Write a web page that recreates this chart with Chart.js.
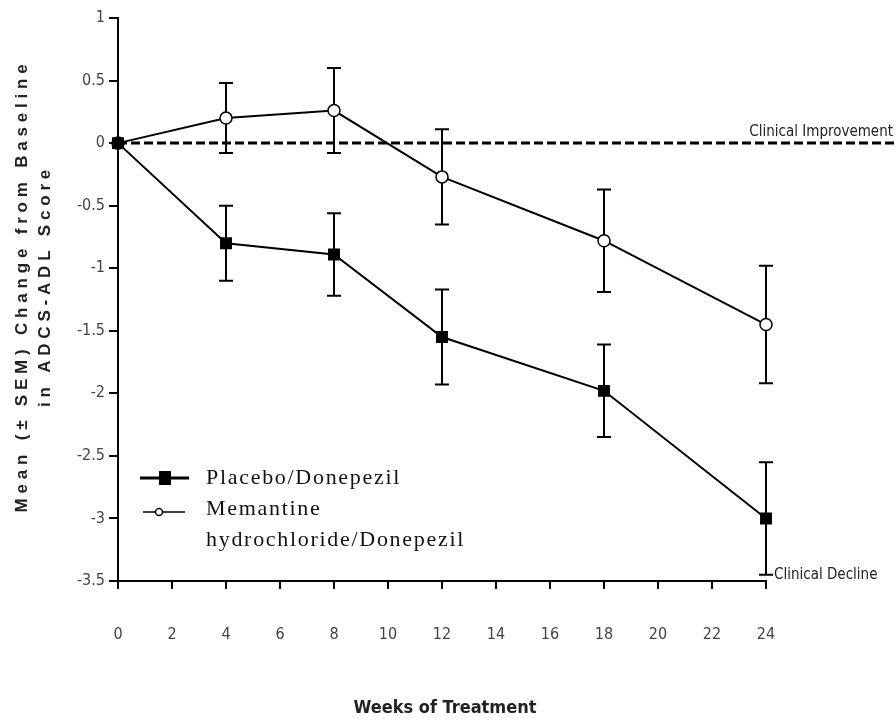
<!DOCTYPE html>
<html>
<head>
<meta charset="utf-8">
<script src="https://cdn.jsdelivr.net/npm/chart.js@4"></script>
<style>
  html, body { margin: 0; padding: 0; background: #fff; }
  #wrap { width: 896px; height: 721px; }
</style>
</head>
<body>
<div id="wrap"><canvas id="chart" width="896" height="721"></canvas></div>
<script>
// data
const weeks = [0, 4, 8, 12, 18, 24];
const placebo = [0, -0.8, -0.89, -1.55, -1.98, -3.0];
const placeboSem = [0, 0.3, 0.33, 0.38, 0.37, 0.45];
const memantine = [0, 0.2, 0.26, -0.27, -0.78, -1.45];
const memantineSem = [0, 0.28, 0.34, 0.38, 0.41, 0.47];
const xTicks = [0, 2, 4, 6, 8, 10, 12, 14, 16, 18, 20, 22, 24];
const yTicks = [1, 0.5, 0, -0.5, -1, -1.5, -2, -2.5, -3, -3.5];

const NARROW = "'Liberation Sans Narrow', 'DejaVu Sans Condensed', 'Liberation Sans', sans-serif";

// ======================
// ERROR BARS + REFERENCE LINE + NOTES + LEGEND
// ======================
const extras = {
    id: "extras",
    beforeDatasetsDraw(c) {
        const ctx = c.ctx;
        const x = c.scales.x, y = c.scales.y;
        ctx.save();
        // dashed zero line runs past the plot to the page edge
        ctx.strokeStyle = "#000";
        ctx.lineWidth = 3;
        ctx.setLineDash([9, 4]);
        ctx.beginPath();
        ctx.moveTo(x.getPixelForValue(0), y.getPixelForValue(0));
        ctx.lineTo(c.width, y.getPixelForValue(0));
        ctx.stroke();
        ctx.setLineDash([]);

        // error bars
        ctx.lineWidth = 2;
        [[placebo, placeboSem], [memantine, memantineSem]].forEach(([vals, sem]) => {
            weeks.forEach((w, i) => {
                if (!sem[i]) return;
                const px = x.getPixelForValue(w);
                const top = y.getPixelForValue(vals[i] + sem[i]);
                const bot = y.getPixelForValue(vals[i] - sem[i]);
                ctx.beginPath();
                ctx.moveTo(px, top); ctx.lineTo(px, bot);
                ctx.moveTo(px - 7, top); ctx.lineTo(px + 7, top);
                ctx.moveTo(px - 7, bot); ctx.lineTo(px + 7, bot);
                ctx.stroke();
            });
        });
        ctx.restore();
    },
    afterDraw(c) {
        const ctx = c.ctx;
        const a = c.chartArea;
        const y = c.scales.y;
        ctx.save();
        ctx.fillStyle = "#222";
        ctx.font = "15px " + NARROW;
        ctx.textAlign = "right";
        ctx.textBaseline = "alphabetic";
        ctx.fillText("Clinical Improvement", c.width - 3, y.getPixelForValue(0) - 7);
        ctx.textAlign = "left";
        ctx.textBaseline = "middle";
        ctx.fillText("Clinical Decline", a.right + 8, y.getPixelForValue(-3.45));

        // axis titles
        ctx.fillStyle = "#222";
        ctx.font = "bold 18px " + NARROW;
        ctx.textAlign = "center";
        ctx.fillText("Weeks of Treatment", (a.left + a.right) / 2 + 3, 708);

        ctx.save();
        ctx.translate(0, 286);
        ctx.rotate(-Math.PI / 2);
        ctx.font = "bold 17px 'Liberation Sans', Arial, sans-serif";
        ctx.letterSpacing = "4.8px";
        ctx.fillText("Mean (\u00b1 SEM) Change from Baseline", 0, 22);
        ctx.fillText("in ADCS-ADL Score", 0, 45);
        ctx.restore();

        // legend
        const lx = a.left + 22, ly = a.top + 460;
        ctx.strokeStyle = "#000";
        ctx.fillStyle = "#000";
        ctx.lineWidth = 3;
        ctx.beginPath(); ctx.moveTo(lx, ly); ctx.lineTo(lx + 49, ly); ctx.stroke();
        ctx.fillRect(lx + 19, ly - 7, 12, 14);
        ctx.lineWidth = 1.5;
        ctx.beginPath(); ctx.moveTo(lx + 3, ly + 34); ctx.lineTo(lx + 45, ly + 34); ctx.stroke();
        ctx.fillStyle = "#fff";
        ctx.beginPath(); ctx.arc(lx + 19, ly + 34, 3.5, 0, Math.PI * 2); ctx.fill(); ctx.stroke();

        ctx.fillStyle = "#111";
        ctx.font = "22px 'Liberation Serif', 'DejaVu Serif', serif";
        ctx.letterSpacing = "1.7px";
        ctx.textAlign = "left";
        ctx.textBaseline = "middle";
        ctx.fillText("Placebo/Donepezil", lx + 66, ly);
        ctx.fillText("Memantine", lx + 66, ly + 31);
        ctx.fillText("hydrochloride/Donepezil", lx + 66, ly + 62);
        ctx.restore();
    }
};

const chart = new Chart(document.getElementById("chart"), {
    type: "line",
    data: {
        datasets: [
            {
                label: "Placebo/Donepezil",
                data: weeks.map((w, i) => ({ x: w, y: placebo[i] })),
                borderColor: "#000",
                borderWidth: 2,
                pointStyle: "rect",
                pointRadius: 7,
                pointBackgroundColor: "#000",
                pointBorderColor: "#000",
                clip: false,
                tension: 0
            },
            {
                label: "Memantine hydrochloride/Donepezil",
                data: weeks.map((w, i) => ({ x: w, y: memantine[i] })),
                borderColor: "#000",
                borderWidth: 2,
                pointStyle: "circle",
                pointRadius: 6,
                pointBorderWidth: 1.5,
                pointBackgroundColor: "#fff",
                pointBorderColor: "#000",
                clip: false,
                tension: 0
            }
        ]
    },
    options: {
        responsive: false,
        animation: false,
        events: [],
        layout: { padding: { top: 18, right: 130, left: 0, bottom: 0 } },
        plugins: { legend: { display: false }, tooltip: { enabled: false } },
        scales: {
            x: {
                type: "linear",
                min: 0,
                max: 24,
                afterBuildTicks: s => { s.ticks = xTicks.map(v => ({ value: v })); },
                afterFit: s => { s.height = 140; },
                border: { color: "#000", width: 2 },
                grid: { drawOnChartArea: false, drawTicks: true, tickLength: 8, color: "#000", lineWidth: 2 },
                ticks: { padding: 36, color: "#444", font: { size: 16, family: NARROW }, callback: v => String(v) }
            },
            y: {
                min: -3.5,
                max: 1,
                afterBuildTicks: s => { s.ticks = yTicks.map(v => ({ value: v })); },
                afterFit: s => { s.width = 118; },
                border: { color: "#000", width: 2 },
                grid: { drawOnChartArea: false, drawTicks: true, tickLength: 9, color: "#000", lineWidth: 2 },
                ticks: { padding: 4, color: "#444", font: { size: 16, family: NARROW }, callback: v => String(v) }
            }
        }
    },
    plugins: [extras]
});
</script>
</body>
</html>
